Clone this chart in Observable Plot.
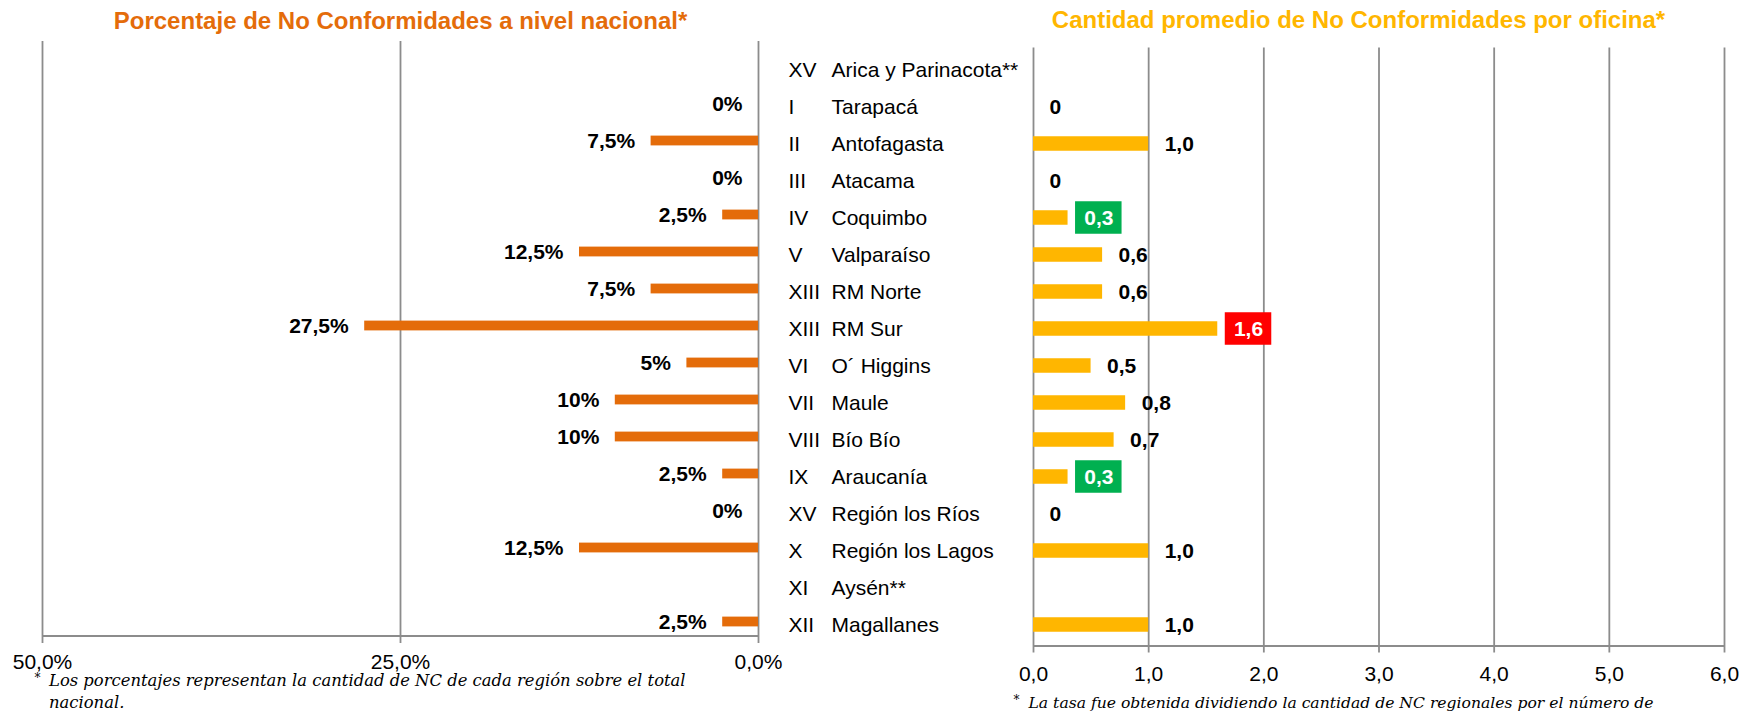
<!DOCTYPE html>
<html><head><meta charset="utf-8">
<script src="https://cdn.jsdelivr.net/npm/d3@7"></script>
<script src="https://cdn.jsdelivr.net/npm/@observablehq/plot@0.6"></script>
<style>
body{margin:0;background:#fff;}
#wrap{position:relative;width:1757px;height:712px;overflow:hidden;background:#fff;}
#wrap svg{position:absolute;top:0;}
</style></head><body><div id="wrap"></div>
<script>
// ---- data ----
const romans = ["XV","I","II","III","IV","V","XIII","XIII","VI","VII","VIII","IX","XV","X","XI","XII"];
const names = ["Arica y Parinacota**","Tarapacá","Antofagasta","Atacama","Coquimbo","Valparaíso","RM Norte","RM Sur","O´ Higgins","Maule","Bío Bío","Araucanía","Región los Ríos","Región los Lagos","Aysén**","Magallanes"];
const pctNC = [null,0,7.5,0,2.5,12.5,7.5,27.5,5,10,10,2.5,0,12.5,null,2.5];
const avgNC = [null,0,1.0,0,0.3,0.6,0.6,1.6,0.5,0.8,0.7,0.3,0,1.0,null,1.0];
const pctTicks = [0,25,50];
const avgTicks = [0,1,2,3,4,5,6];
const greenRegions = ["Coquimbo","Araucanía"];
const redRegions = ["RM Sur"];
const leftTitle = "Porcentaje de No Conformidades a nivel nacional*";
const rightTitle = "Cantidad promedio de No Conformidades por oficina*";
const leftNote = ["Los porcentajes representan la cantidad de NC de cada región sobre el total", "nacional."];
const rightNote = "La tasa fue obtenida dividiendo la cantidad de NC regionales por el número de";

// ---- build ----
const rows = names.map((n,i)=>({name:n, roman:romans[i], pct:pctNC[i], avg:avgNC[i]}));
const pctRows = rows.filter(d=>d.pct!=null);
const avgRows = rows.filter(d=>d.avg!=null);
const isBox = d => greenRegions.includes(d.name) || redRegions.includes(d.name);
const sans = "'Liberation Sans', Arial, sans-serif";
const serif = "'DejaVu Serif', 'Liberation Serif', serif";
const gridColor = "#8c8c8c";
const orange = "#E46C0A";
const amber = "#FFB600";
const comma = s => s.replace(".", ",");
const fmtPct = v => comma(String(v)) + "%";
const fmtAvg = v => v === 0 ? "0" : comma(v.toFixed(1));
const noteSizeL = 16.4;
const noteSizeR = 15.6;

const L = {w:770, ml:42, mr:12, mt:41, mb:76};
const left = Plot.plot({
  width: L.w, height: 712,
  marginLeft: L.ml, marginRight: L.mr, marginTop: L.mt, marginBottom: L.mb,
  style: {fontFamily: sans, fontSize: "21px", color: "#000", background: "transparent", overflow: "visible"},
  x: {domain: [0,50], reverse: true, axis: null},
  y: {domain: names, range: [46, 641.7], padding: 0, axis: null},
  marks: [
    Plot.ruleX(pctTicks, {stroke: gridColor, strokeWidth: 1.8}),
    Plot.barX([0], {x1: 0, x2: 50, fill: gridColor, insetTop: 712-L.mt-L.mb-1, insetBottom: -1}),
    Plot.axisX({ticks: pctTicks, tickFormat: d => comma(d3.format(".1f")(d)) + "%", tickSize: 7, tickPadding: 11, stroke: gridColor, strokeWidth: 1.8, fill: "#000", label: null, fontSize: 21}),
    Plot.barX(pctRows, {x: "pct", y: "name", fill: orange, insetTop: 13.6, insetBottom: 13.6}),
    Plot.text(pctRows, {x: "pct", y: "name", text: d => fmtPct(d.pct), textAnchor: "end", dx: -16, fontWeight: "bold", fontSize: 21, fill: "#000"}),
    Plot.text([leftTitle], {frameAnchor: "top", dy: -20, lineAnchor: "middle", fill: orange, fontWeight: "bold", fontSize: 24}),
    Plot.text(["*"], {frameAnchor: "bottom-left", dx: -8, dy: 42, textAnchor: "start", lineAnchor: "middle", fontFamily: serif, fontSize: 12, fill: "#000"}),
    Plot.text([leftNote[0]], {frameAnchor: "bottom-left", dx: 6.5, dy: 685.5 - 0.32*noteSizeL - 636, textAnchor: "start", lineAnchor: "middle", fontFamily: serif, fontStyle: "italic", fontSize: noteSizeL, fill: "#000"}),
    Plot.text([leftNote[1]], {frameAnchor: "bottom-left", dx: 6.5, dy: 707 - 0.32*noteSizeL - 636, textAnchor: "start", lineAnchor: "middle", fontFamily: serif, fontStyle: "italic", fontSize: noteSizeL, fill: "#000"})
  ]
});
left.style.left = "0px";

const R = {w:987, ml:263, mr:33, mt:47.5, mb:66};
const pxPerUnit = (R.w - R.ml - R.mr) / 6;
const boxW = 46.5 / pxPerUnit;
const right = Plot.plot({
  width: R.w, height: 712,
  marginLeft: R.ml, marginRight: R.mr, marginTop: R.mt, marginBottom: R.mb,
  style: {fontFamily: sans, fontSize: "21px", color: "#000", background: "transparent", overflow: "visible"},
  x: {domain: [0,6], axis: null},
  y: {domain: names, padding: 0, axis: null},
  marks: [
    Plot.ruleX(avgTicks, {stroke: gridColor, strokeWidth: 1.8}),
    Plot.barX([0], {x1: 0, x2: 6, fill: gridColor, insetTop: 712-R.mt-R.mb-1, insetBottom: -1}),
    Plot.axisX({ticks: avgTicks, tickFormat: d => comma(d3.format(".1f")(d)), tickSize: 6.5, tickPadding: 13, stroke: gridColor, strokeWidth: 1.8, fill: "#000", label: null, fontSize: 21}),
    Plot.barX(avgRows, {x: "avg", y: "name", fill: amber, insetTop: 11.25, insetBottom: 11.25}),
    Plot.text(avgRows.filter(d=>!isBox(d)), {x: "avg", y: "name", text: d => fmtAvg(d.avg), textAnchor: "start", dx: 16, fontWeight: "bold", fontSize: 21, fill: "#000"}),
    Plot.barX(avgRows.filter(isBox), {x1: d => d.avg, x2: d => d.avg + boxW, y: "name", dx: 7.5, insetTop: 2.25, insetBottom: 2.25, fill: d => redRegions.includes(d.name) ? "#FF0000" : "#00B050"}),
    Plot.text(avgRows.filter(isBox), {x: "avg", y: "name", text: d => fmtAvg(d.avg), textAnchor: "middle", dx: 7.5 + 23.25, fontWeight: "bold", fontSize: 21, fill: "#fff"}),
    Plot.text(rows, {y: "name", frameAnchor: "left", text: "roman", dx: 788 - 770 - R.ml, textAnchor: "start", fontSize: 21, fill: "#000"}),
    Plot.text(rows, {y: "name", frameAnchor: "left", text: "name", dx: 831 - 770 - R.ml, textAnchor: "start", fontSize: 21, fill: "#000"}),
    Plot.text([rightTitle], {frameAnchor: "top", dx: -20.5, dy: -27.5, lineAnchor: "middle", fill: amber, fontWeight: "bold", fontSize: 24}),
    Plot.text(["*"], {frameAnchor: "bottom-left", dx: -20, dy: 54, textAnchor: "start", lineAnchor: "middle", fontFamily: serif, fontSize: 12, fill: "#000"}),
    Plot.text([rightNote], {frameAnchor: "bottom-left", dx: -5, dy: 707.5 - 0.32*noteSizeR - 646, textAnchor: "start", lineAnchor: "middle", fontFamily: serif, fontStyle: "italic", fontSize: noteSizeR, fill: "#000"})
  ]
});
right.style.left = "770px";

const wrap = document.getElementById("wrap");
wrap.appendChild(left);
wrap.appendChild(right);
</script>
</body></html>
